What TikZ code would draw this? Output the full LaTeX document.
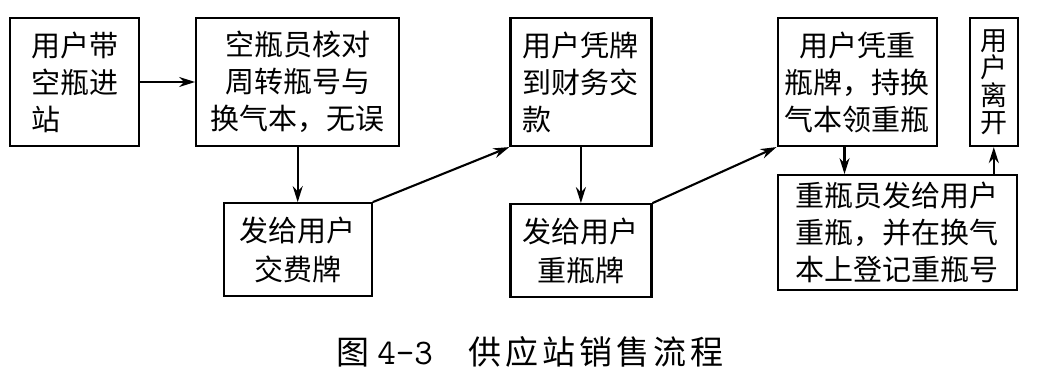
\documentclass[tikz,border=0pt]{standalone}
\usepackage{fontspec}
\setmainfont{Noto Sans CJK SC}
\usetikzlibrary{arrows.meta,positioning}

\tikzset{
  stepbox/.style={draw, line width=2.2pt, minimum height=128pt, inner sep=0pt, align=center,
    font=\fontsize{29}{37}\selectfont},
  lowbox/.style={draw, line width=2.2pt, minimum height=93pt, inner sep=0pt, align=center,
    font=\fontsize{29}{39}\selectfont}
}

\begin{document}
\begin{tikzpicture}[x=1pt, y=1pt, node distance=55pt, >={Stealth[length=16pt,width=10pt]}, line width=2.1pt]
  \useasboundingbox (0,0) rectangle (1060,-382);
  % top row
  \node[stepbox, minimum width=129pt, align=left] (enter) at (74.5,-82) {用户带\\空瓶进\\站};
  \node[stepbox, minimum width=203pt, right=55pt of enter] (check) {空瓶员核对\\周转瓶号与\\换气本，无误};
  \node[stepbox, minimum width=141pt, align=left, right=109pt of check] (pay) {用户凭牌\\到财务交\\款};
  \node[stepbox, minimum width=159pt, right=124pt of pay] (fetch) {用户凭重\\瓶牌，持换\\气本领重瓶};
  \node[stepbox, minimum width=48pt, right=31pt of fetch, font=\fontsize{27}{27.5}\selectfont] (leave) {用\\户\\离\\开};
  % bottom row
  \node[lowbox, minimum width=148pt, below=55pt of check] (token) {发给用户\\交费牌};
  \node[lowbox, minimum width=141pt, below=56pt of pay] (fulltoken) {发给用户\\重瓶牌};
  \node[lowbox, minimum width=239pt, minimum height=115pt, font=\fontsize{29}{37}\selectfont,
    below=27pt of fetch.south west, anchor=north west] (issue) {重瓶员发给用户\\重瓶，并在换气\\本上登记重瓶号};

  \draw[->] (enter) -- (check);
  \draw[->] (check) -- (token);
  \draw[->] (token.north east) -- (pay.south west);
  \draw[->] (pay) -- (fulltoken);
  \draw[->] (fulltoken.north east) -- (fetch.south west);
  \draw[->] ([xshift=68pt]fetch.south west) -- ([xshift=68pt]fetch.south west |- issue.north);
  \draw[->] (leave.south |- issue.north) -- (leave);

  % caption
  \node[font=\fontsize{33}{33}\selectfont] (caption) at (530,-352)
    {图\hspace{8pt}{\fontsize{36}{36}\selectfont\ttfamily 4-3}\hspace{36pt}{\addfontfeature{LetterSpace=12}供应站销售流程}};
\end{tikzpicture}
\end{document}
